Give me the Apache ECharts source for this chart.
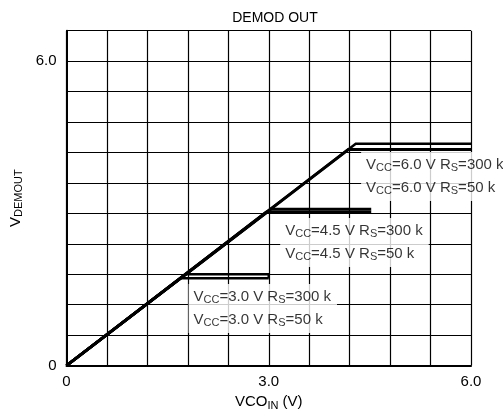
<!DOCTYPE html>
<html>
<head>
<meta charset="utf-8">
<script src="https://cdn.jsdelivr.net/npm/echarts@6/dist/echarts.min.js"></script>
<style>html,body{margin:0;padding:0;background:#fff;}#c{width:503px;height:416px;}</style>
</head>
<body>
<div id="c"></div>
<script>
// Data (VCO_IN, V_DEMOUT)
const vcc3_rs300 = [[0, 0], [1.77, 1.80], [3.0, 1.80], [3.0, 1.72]];
const vcc3_rs50 = [[0, 0], [1.69, 1.72], [3.0, 1.72]];
const vcc45_rs300 = [[0, 0], [3.03, 3.08], [4.52, 3.08]];
const vcc45_rs50 = [[0, 0], [2.96, 3.02], [4.52, 3.02]];
const vcc6_rs300 = [[0, 0], [4.29, 4.37], [6.0, 4.37]];
const vcc6_rs50 = [[0, 0], [4.18, 4.26], [6.0, 4.26]];
const xTickLabels = {0: '0', 3: '3.0', 6: '6.0'};
const yTickLabels = {0: '0', 6: '6.0'};
const annotations = [
  {pos: [4.37, 4.21], vcc: '6.0'},
  {pos: [3.17, 2.91], vcc: '4.5'},
  {pos: [1.81, 1.61], vcc: '3.0'}
];

const FONT = 'Liberation Sans, Arial, sans-serif';
const rich = {
  m: {fontSize: 15, fontFamily: FONT, color: '#000'},
  s: {fontSize: 11, fontFamily: FONT, color: '#000', padding: [7, 0, 0, 0]}
};
function annText(vcc) {
  return '{m|V}{s|CC}{m|=' + vcc + ' V R}{s|S}{m|=300 k}\n' +
         '{m|V}{s|CC}{m|=' + vcc + ' V R}{s|S}{m|=50 k}';
}
function fmt(map) {
  return function (v) {
    const r = Math.round(v * 1000) / 1000;
    return map.hasOwnProperty(r) ? map[r] : '';
  };
}
function lineSeries(data, w) {
  return {
    type: 'line', data: data, symbol: 'none', silent: true,
    lineStyle: {color: '#000', width: w, cap: 'butt', join: 'miter'}, z: 3
  };
}
const chart = echarts.init(document.getElementById('c'), null, {renderer: 'canvas'});
chart.setOption({
  animation: false,
  backgroundColor: '#fff',
  title: {
    text: 'DEMOD OUT', left: 270, top: 6, textAlign: 'center',
    textStyle: {fontSize: 14, fontWeight: 'normal', fontFamily: FONT, color: '#000'}
  },
  grid: {left: 62, right: 32, top: 30.7, bottom: 49.3},
  xAxis: {
    type: 'value', min: 0, max: 6, interval: 0.6,
    name: '{m|VCO}{s|IN}{m| (V)}', nameLocation: 'middle', nameGap: 27,
    nameTextStyle: {rich: rich, color: '#000'},
    axisLine: {show: true, lineStyle: {color: '#000', width: 2}},
    axisTick: {show: false},
    axisLabel: {formatter: fmt(xTickLabels), color: '#000', fontSize: 15, fontFamily: FONT, margin: 9, showMaxLabel: true, showMinLabel: true},
    splitLine: {show: true, lineStyle: {color: '#000', width: 1.2}}
  },
  yAxis: {
    type: 'value', min: 0, max: 6.6, interval: 0.6,
    name: '{m|V}{s|DEMOUT}', nameLocation: 'middle', nameGap: 42, nameRotate: 90,
    nameTextStyle: {rich: rich, color: '#000'},
    axisLine: {show: true, lineStyle: {color: '#000', width: 2}},
    axisTick: {show: false},
    axisLabel: {formatter: fmt(yTickLabels), color: '#000', fontSize: 15, fontFamily: FONT, margin: 10},
    splitLine: {show: true, lineStyle: {color: '#000', width: 1.2}}
  },
  series: [
    lineSeries(vcc3_rs300, 2.5),
    lineSeries(vcc3_rs50, 2.5),
    lineSeries(vcc45_rs300, 3),
    lineSeries(vcc45_rs50, 3),
    lineSeries(vcc6_rs300, 2.5),
    lineSeries(vcc6_rs50, 3),
    {
      type: 'scatter', symbolSize: 0, silent: true, z: 2,
      data: annotations.map(a => ({value: a.pos, vcc: a.vcc})),
      label: {
        show: true, position: [0, 0], align: 'left', verticalAlign: 'top',
        color: '#000', backgroundColor: '#fff', padding: [1, 6, 2, 5], lineHeight: 23,
        formatter: p => annText(p.data.vcc), rich: rich
      }
    }
  ]
});
</script>
</body>
</html>
